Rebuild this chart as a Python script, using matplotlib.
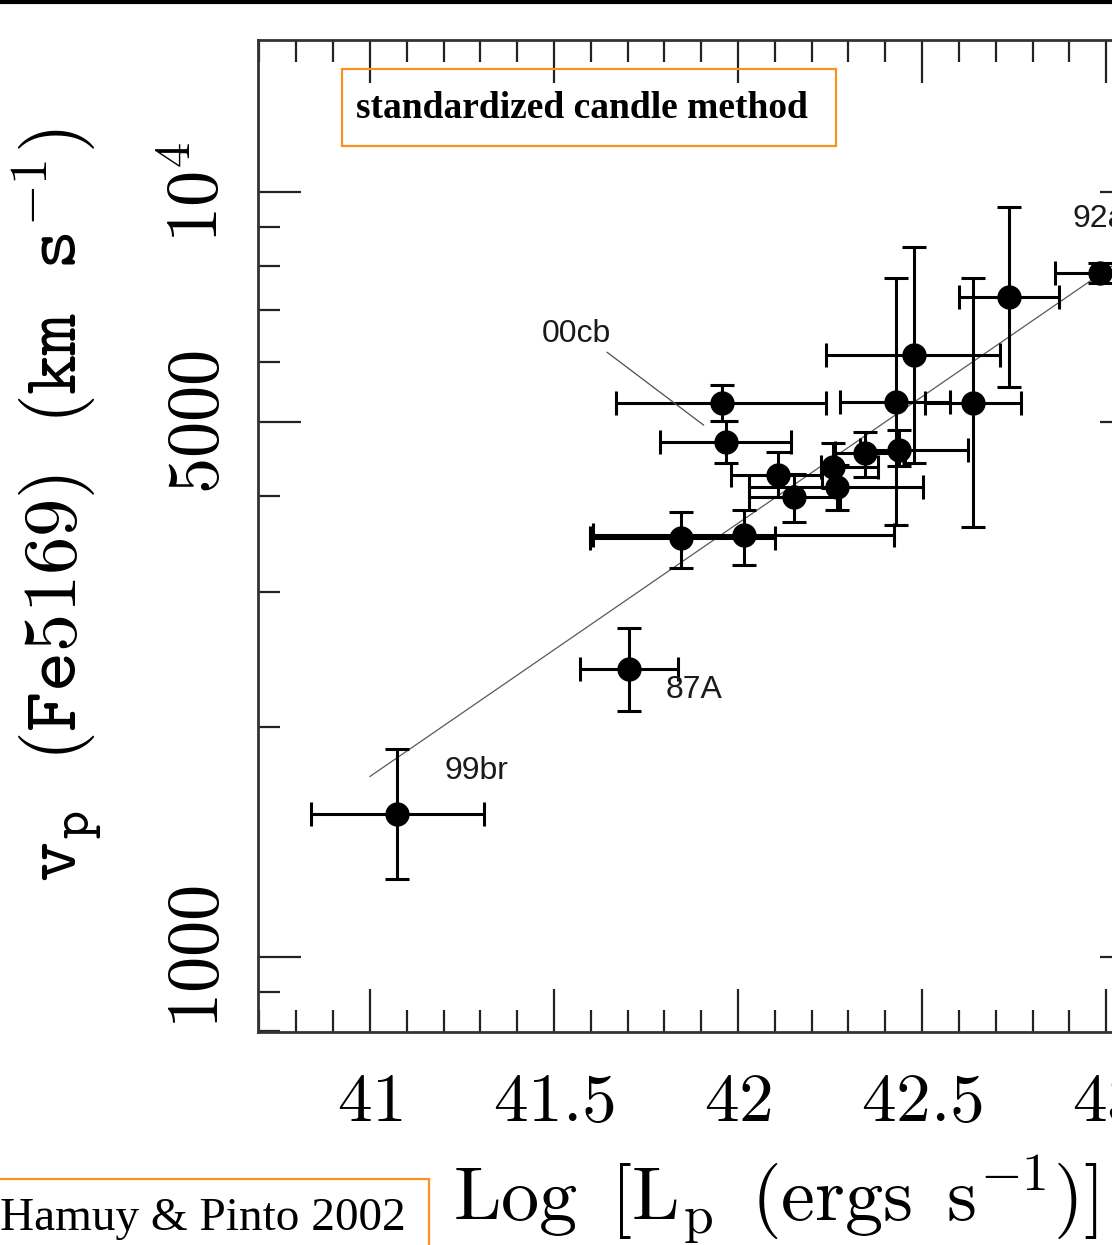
import matplotlib
matplotlib.use('Agg')
import matplotlib.pyplot as plt
import matplotlib.patches as mpatches
import matplotlib.lines as mlines
from matplotlib.ticker import FixedLocator, NullFormatter
import numpy as np

plt.rcParams['mathtext.fontset'] = 'cm'

# log peak luminosity and its error range
log_lp = np.array([41.073, 41.704, 41.845, 42.016, 41.957, 41.967, 42.109, 42.152, 42.258,
                   42.269, 42.345, 42.4375, 42.429, 42.478, 42.639, 42.736, 42.984])
log_lp_lo = np.array([40.840, 41.571, 41.598, 41.606, 41.668, 41.788, 41.981, 42.030, 42.226,
                      42.030, 42.264, 42.332, 42.277, 42.239, 42.508, 42.601, 42.861])
log_lp_hi = np.array([41.310, 41.837, 42.101, 42.424, 42.239, 42.144, 42.228, 42.277, 42.380,
                      42.503, 42.454, 42.625, 42.576, 42.712, 42.769, 42.872, 43.107])

# Fe II 5169 velocity (km/s) and its error range
vp = np.array([1538, 2380, 3529, 3561, 5300, 4713, 4266, 3993, 4371,
               4116, 4559, 4600, 5316, 6122, 5300, 7291, 7838])
vp_lo = np.array([1265, 2097, 3225, 3253, 5020, 4424, 3993, 3703, 4104,
                  3840, 4242, 4383, 3670, 4424, 3648, 5561, 7603])
vp_hi = np.array([1871, 2692, 3817, 3840, 5595, 5020, 4571, 4280, 4697,
                  4397, 4857, 4886, 7720, 8474, 7720, 9560, 8074])

# named supernovae: name -> index into the arrays above
sn_names = ['99br', '87A', '00cb', '92am']
sn_index = [0, 1, 5, 16]

# fitted relation log v = a + b log L
fit_slope = 0.331
fit_intercept = -10.335
fit_range = [41.0, 43.2]

x_major = [41, 41.5, 42, 42.5, 43]
x_major_labels = ['41', '41.5', '42', '42.5', '43']
y_major = [1000, 5000, 10000]
y_major_labels = ['1000', '5000', '10^4']

ORANGE = '#f7931e'

fig = plt.figure(figsize=(11.12, 12.45), dpi=100)
ax = fig.add_axes([258 / 1112, 213 / 1245, 885 / 1112, 992 / 1245])

ax.set_yscale('log')
ax.set_xlim(40.696, 43.1)
ax.set_ylim(798, 15800)

# fit line
fx = np.array(fit_range)
ax.plot(fx, 10 ** (fit_intercept + fit_slope * fx), color='0.35', lw=0.9, zorder=1)

# data with error bars
ax.errorbar(log_lp, vp,
            xerr=[log_lp - log_lp_lo, log_lp_hi - log_lp],
            yerr=[vp - vp_lo, vp_hi - vp],
            fmt='o', color='black', ms=16.5, elinewidth=2.2, capsize=8.5, capthick=2.2,
            zorder=3)

# labels next to points (offsets in points)
label_offsets = {'99br': (34, 31), '87A': (26, -15), '00cb': (-108, 78), '92am': (-20, 39)}
for name, i in zip(sn_names, sn_index):
    dx, dy = label_offsets[name]
    if name == '00cb':
        ax.annotate(name, (log_lp[i], vp[i]), xytext=(dx, dy), textcoords='offset points',
                    ha='center', va='center', fontsize=23, family='Liberation Sans',
                    color='0.1',
                    arrowprops=dict(arrowstyle='-', color='0.3', lw=0.9,
                                    shrinkA=1, shrinkB=20, relpos=(0.88, 0.0)))
    else:
        ax.annotate(name, (log_lp[i], vp[i]), xytext=(dx, dy), textcoords='offset points',
                    ha='left', va='center', fontsize=23, family='Liberation Sans',
                    color='0.1', annotation_clip=False)

# ticks
ax.xaxis.set_major_locator(FixedLocator(x_major))
ax.set_xticklabels(['$' + t + '$' for t in x_major_labels])
ax.xaxis.set_minor_locator(FixedLocator(np.arange(40.7, 43.15, 0.1)))
ax.yaxis.set_major_locator(FixedLocator(y_major))
ax.set_yticklabels(['$' + t + '$' for t in y_major_labels])
minor_y = [m * d for d in (100, 1000, 10000) for m in range(2, 10)]
ax.yaxis.set_minor_locator(FixedLocator(minor_y))
ax.yaxis.set_minor_formatter(NullFormatter())

ax.tick_params(which='both', direction='in', top=True, right=True, color='#222222')
ax.tick_params(which='major', length=31, width=1.6)
ax.tick_params(which='minor', length=16, width=1.6)
ax.tick_params(axis='x', which='major', labelsize=50, pad=26)
ax.tick_params(axis='y', which='major', labelsize=52, pad=18, labelrotation=90)
for lab in ax.get_yticklabels():
    lab.set_va('center')

for sp in ax.spines.values():
    sp.set_linewidth(2.0)
    sp.set_color('#333333')

ax.set_xlabel(r'$\mathrm{Log\ \,[L_p\ \,(ergs\ \,s^{-1})]}$', fontsize=55)
ax.xaxis.set_label_coords((775 - 258) / 885, -(1154 - 1032) / 992)
ax.set_ylabel(r'$\mathtt{v_p\ \ (Fe5169)\ \ (km\ \ s^{-1})}$', fontsize=55)
ax.yaxis.set_label_coords(-(258 - 104) / 885, (1032 - 505) / 992)

# orange framed text boxes
fig.add_artist(mpatches.Rectangle((342 / 1112, 1 - 146 / 1245), 494 / 1112, 77 / 1245,
                                  transform=fig.transFigure, fill=False,
                                  edgecolor=ORANGE, lw=1.6))
fig.text(356 / 1112, 1 - 109 / 1245, 'standardized candle method', fontsize=27,
         family='Liberation Serif', weight='bold', va='center', ha='left')

fig.add_artist(mpatches.Rectangle((-0.01, -0.01), 440 / 1112, 78 / 1245,
                                  transform=fig.transFigure, fill=False,
                                  edgecolor=ORANGE, lw=1.6))
fig.text(0 / 1112, 1 - 1219 / 1245, 'Hamuy & Pinto 2002', fontsize=34,
         family='Liberation Serif', va='center', ha='left')

# rule along the top edge
fig.add_artist(mlines.Line2D([0, 1], [1 - 2 / 1245, 1 - 2 / 1245], color='black', lw=3,
                             transform=fig.transFigure))

fig.savefig('out.png', dpi=100)
